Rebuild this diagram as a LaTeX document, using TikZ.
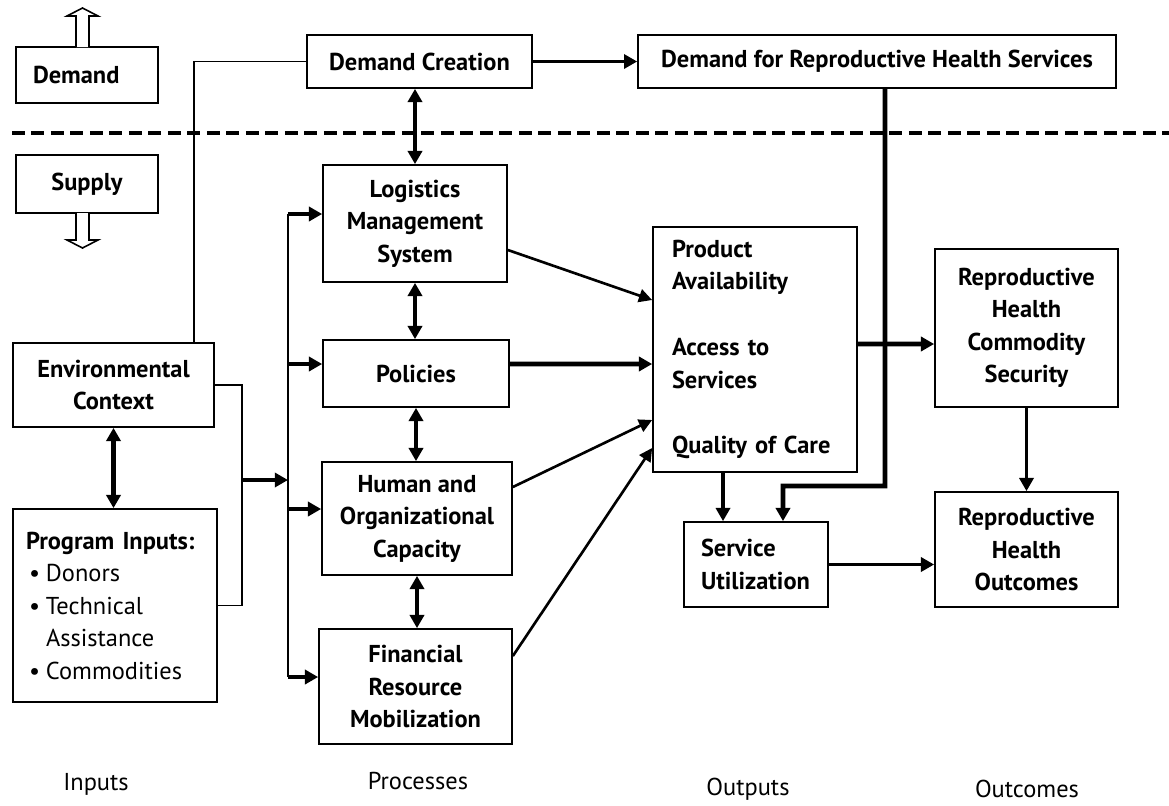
\documentclass[tikz,border=0pt]{standalone}
\usepackage{fontspec}
\setmainfont{PT Sans}
\usepackage{tikz}
\usetikzlibrary{arrows.meta, positioning, calc}
\newcommand{\diagfont}{\fontsize{13.9pt}{18.5pt}\selectfont}
\newcommand{\inputitem}[1]{\makebox[0.34cm][l]{\textbullet}#1}
\tikzset{
  box/.style = {
    rectangle, draw=black, line width=1pt, fill=white,
    align=center, inner sep=0pt, font=\diagfont\bfseries
  },
  link/.style = {line width=1pt},
  fat/.style = {-{Triangle[length=7.5pt,width=8pt]}, line width=2.6pt},
  medium/.style = {-{Triangle[length=7.5pt,width=8pt]}, line width=1.8pt},
  slim/.style = {-{Triangle[length=7.5pt,width=7.5pt]}, line width=1.5pt},
  both/.style = {{Triangle[length=7.5pt,width=8pt]}-{Triangle[length=7.5pt,width=8pt]}, line width=2.4pt},
  hollow/.style = {draw=black, line width=0.9pt, fill=white},
  divider/.style = {line width=2.8pt, dash pattern=on 0.26cm off 0.13cm},
  caption/.style = {font=\diagfont, inner sep=1pt}
}

\begin{document}
\begin{tikzpicture}[x=0.02cm, y=-0.02cm]
  \useasboundingbox (0,0) rectangle (1169,805);

  % Demand / supply split
  \draw[divider] (12,133) -- (1169,133);
  \node[box, text width=2.16cm, align=left, inner xsep=0.34cm, minimum height=1.12cm]
    (demand) at (87,75) {Demand};
  \node[box, minimum width=2.84cm, minimum height=1.16cm]
    (supply) at (87,184) {Supply};
  \coordinate (up) at (82.5,47);
  \coordinate (down) at (82.5,213);
  \begin{scope}[shift={(up)}]
    \draw[hollow] (-6.5,0) -- (-6.5,-31) -- (-15.5,-31) -- (0,-39)
      -- (15.5,-31) -- (6.5,-31) -- (6.5,0);
  \end{scope}
  \begin{scope}[shift={(down)}]
    \draw[hollow] (-6.5,0) -- (-6.5,27) -- (-15.5,27) -- (0,35)
      -- (15.5,27) -- (6.5,27) -- (6.5,0);
  \end{scope}

  % Inputs
  \node[box, minimum width=4.02cm, minimum height=1.68cm]
    (env) at (113.5,385) {Environmental\\Context};
  \node[box, font=\diagfont, align=left, text width=3.56cm, inner xsep=0.26cm,
        minimum height=3.86cm]
    (inputs) at (115,605.5) {\mbox{\textbf{Program Inputs:}}\\
      \hspace*{0.06cm}\inputitem{Donors}\\
      \hspace*{0.06cm}\inputitem{Technical}\\
      \hspace*{0.4cm}Assistance\\
      \hspace*{0.06cm}\inputitem{Commodities}};

  % Processes
  \node[box, minimum width=4.5cm, minimum height=1.06cm]
    (creation) at (419.5,61.5) {Demand Creation};
  \node[box, minimum width=3.68cm, minimum height=2.34cm]
    (lms) at (415,223.5) {Logistics\\Management\\System};
  \node[box, minimum width=3.72cm, minimum height=1.34cm]
    (policies) at (416,373.5) {Policies};
  \node[box, minimum width=3.8cm, minimum height=2.26cm]
    (hoc) at (417,518.5) {Human and\\Organizational\\Capacity};
  \node[box, minimum width=3.86cm, minimum height=2.3cm]
    (frm) at (415.5,686.5) {Financial\\Resource\\Mobilization};

  % Outputs
  \node[box, minimum width=9.56cm, minimum height=1.06cm]
    (rhdemand) at (877,61.5) {Demand for Reproductive Health Services};
  \node[box, align=left, text width=3.32cm, inner xsep=0.38cm, minimum height=4.9cm]
    (outputs) at (755,349.5) {Product\\Availability\\[19pt]Access to\\Services\\[19pt]Quality of Care};
  \node[box, align=left, text width=2.2cm, inner xsep=0.34cm, minimum height=1.7cm]
    (util) at (756,564.5) {Service\\Utilization};

  % Outcomes
  \node[box, minimum width=3.66cm, minimum height=3.16cm]
    (security) at (1026.5,328) {Reproductive\\Health\\Commodity\\Security};
  \node[box, minimum width=3.66cm, minimum height=2.3cm]
    (outcomes) at (1026.5,549.5) {Reproductive\\Health\\Outcomes};

  % Column captions
  \node[caption] (capin)  at (96,784)   {Inputs};
  \node[caption] (cappro) at (418,781)  {Processes};
  \node[caption] (capout) at (748,789)  {Outputs};
  \node[caption] (capoc)  at (1027,789) {Outcomes};

  % Inputs into processes
  \draw[link] ([xshift=-0.42cm]env.north east) |- (creation.west);
  \draw[both] (env.south) -- (env.south |- inputs.north);
  \coordinate (merge) at (242,480);
  \coordinate (spine) at (288,480);
  \draw[link] (env.east) -| (merge) |- (inputs.east);
  \draw[fat] (merge) -- (spine);
  \foreach \b in {lms,policies,hoc,frm} {
    \coordinate (in-\b) at ([yshift=0.19cm]\b.west);
    \draw[fat] (in-\b -| spine) -- (in-\b);
  }
  \draw[link] (in-lms -| spine) -- (in-frm -| spine);

  % Links between processes
  \draw[both] (creation.south -| lms.north) -- (lms.north);
  \draw[both] (lms.south) -- (lms.south |- policies.north);
  \draw[both] (policies.south) -- (policies.south |- hoc.north);
  \draw[both] (hoc.south) -- (hoc.south |- frm.north);
  \draw[medium] (creation.east) -- (rhdemand.west);

  % Processes into outputs
  \draw[slim] ([yshift=-0.53cm]lms.east) -- ([yshift=0.99cm]outputs.west);
  \draw[fat] ([yshift=0.19cm]policies.east) -- ([yshift=-0.29cm]outputs.west);
  \draw[slim] ([yshift=0.63cm]hoc.east) -- ([yshift=-1.41cm]outputs.west);
  \draw[slim] ([yshift=0.61cm]frm.east) -- ([yshift=-1.97cm]outputs.west);

  % Outputs into outcomes
  \coordinate (drop) at ([xshift=-0.64cm]outputs.south);
  \draw[medium] (drop) -- (drop |- util.north);
  \coordinate (bend) at (885,486);
  \draw[fat] ([xshift=0.16cm]rhdemand.south) -- (bend) -| ([xshift=0.54cm]util.north);
  \draw[fat] ([yshift=0.11cm]outputs.east) -- ([yshift=-0.32cm]security.west);
  \draw[medium] (security.south) -- (outcomes.north);
  \draw[medium] (util.east) -- (util.east -| outcomes.west);
\end{tikzpicture}
\end{document}
